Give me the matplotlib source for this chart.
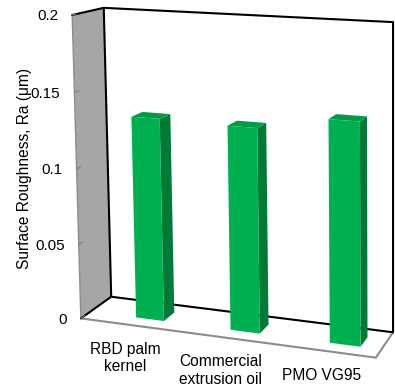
import numpy as np
import matplotlib.pyplot as plt
from matplotlib.patches import Polygon

# data
categories = ['RBD palm\nkernel', 'Commercial\nextrusion oil', 'PMO VG95']
roughness = [0.134, 0.133, 0.142]
y_ticks = [0, 0.05, 0.1, 0.15, 0.2]
y_tick_labels = ['0', '0.05', '0.1', '0.15', '0.2']
y_max = 0.2
y_label = 'Surface Roughness, Ra (\u03bcm)'

plt.rcParams['font.family'] = ['Liberation Sans', 'DejaVu Sans']
plt.rcParams['font.size'] = 11.2

W, H = 395, 387

# box corners (category, depth, value/y_max) -> where they sit on the canvas
box_world = [(0, 0, 0), (0, 1, 0), (0, 1, 1), (0, 0, 1), (3, 1, 0), (3, 1, 1), (3, 0, 0)]
box_pixel = [(80, 318), (112, 297), (104, 7), (72, 16), (392, 333), (393, 22), (377, 357)]


def fit_camera(world, pix):
    rows = []
    for (X, Y, Z), (u, v) in zip(world, pix):
        rows.append([X, Y, Z, 1, 0, 0, 0, 0, -u * X, -u * Y, -u * Z, -u])
        rows.append([0, 0, 0, 0, X, Y, Z, 1, -v * X, -v * Y, -v * Z, -v])
    _, _, vt = np.linalg.svd(np.array(rows, dtype=float))
    return vt[-1].reshape(3, 4)


P = fit_camera(box_world, box_pixel)


def proj(x, d, val):
    h = P @ np.array([x, d, val / y_max, 1.0])
    return h[0] / h[2], h[1] / h[2]


fig = plt.figure(figsize=(W / 100, H / 100), dpi=100)
ax = fig.add_axes([0, 0, 1, 1])
ax.set_xlim(0, W)
ax.set_ylim(H, 0)
ax.axis('off')

n = len(categories)


def poly(pts, fc, ec='none', lw=0, z=1):
    ax.add_patch(Polygon([proj(*p) for p in pts], closed=True, facecolor=fc,
                         edgecolor=ec, linewidth=lw, zorder=z, joinstyle='round'))


def line(pts, color, lw, z=2):
    xy = np.array([proj(*p) for p in pts])
    ax.plot(xy[:, 0], xy[:, 1], color=color, lw=lw, zorder=z, solid_capstyle='round')


# left side wall
poly([(0, 0, 0), (0, 1, 0), (0, 1, y_max), (0, 0, y_max)], '#a6a6a6', '#8c8c8c', 1.0)
# back wall
poly([(0, 1, 0), (n, 1, 0), (n, 1, y_max), (0, 1, y_max)], 'white')
# floor
poly([(0, 0, 0), (n, 0, 0), (n, 1, 0), (0, 1, 0)], 'white')
line([(0, 0, 0), (n, 0, 0), (n, 1, 0)], '#8c8c8c', 1.5)
line([(0, 0, 0), (0, 1, 0), (n, 1, 0), (n, 1, y_max), (0, 1, y_max), (0, 0, y_max)], 'black', 1.5)
line([(0, 1, 0), (0, 1, y_max)], 'black', 1.5)

# ticks and tick labels on the front edge of the side wall
for t, lab in zip(y_ticks, y_tick_labels):
    line([(0, 0, t), (0, 0.12, t)], '#7f7f7f', 0.8, z=3)
    x, y = proj(0, 0, t)
    ax.text(x - 14, y + 1.5, lab, ha='right', va='center', fontsize=11)

# bars (sit slightly right of the category centre, as in the source)
half_w = 0.15
shift = 0.15
d0, d1 = 0.31, 0.69
for i, v in enumerate(roughness):
    c = i + 0.5 + shift
    x0, x1 = c - half_w, c + half_w
    poly([(x1, d0, 0), (x1, d1, 0), (x1, d1, v), (x1, d0, v)], '#007a37', z=4)
    poly([(x0, d0, v), (x1, d0, v), (x1, d1, v), (x0, d1, v)], '#009b48', z=4)
    poly([(x0, d0, 0), (x1, d0, 0), (x1, d0, v), (x0, d0, v)], '#00b050', z=5)

# category labels under the front edge of the floor
for i, lab in enumerate(categories):
    x, y = proj(i + 0.5, 0, 0)
    ax.text(x - 2, y + 17, lab, ha='center', va='top', multialignment='center')

ax.text(25, 168, y_label, rotation=90, ha='center', va='center')

fig.savefig('out.png', dpi=100)
